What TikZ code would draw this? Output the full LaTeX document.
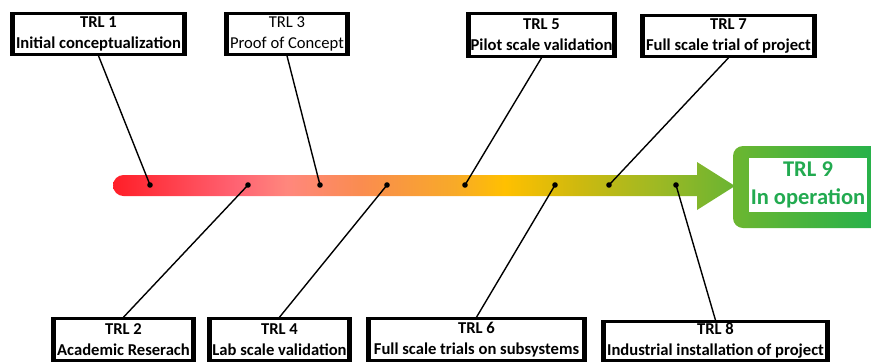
\documentclass[tikz,border=0pt]{standalone}
\usepackage{fontspec}
\setmainfont{Carlito}
\pgfdeclarehorizontalshading{trlbar}{100bp}{rgb(0bp)=(1,0.118,0.157); rgb(25bp)=(1,0.118,0.157); rgb(35bp)=(1,0.392,0.451); rgb(39bp)=(1,0.53,0.49); rgb(45bp)=(0.98,0.55,0.31); rgb(52.5bp)=(0.973,0.667,0.157); rgb(56.5bp)=(1,0.753,0); rgb(62.5bp)=(0.804,0.725,0.059); rgb(68.5bp)=(0.627,0.725,0.137); rgb(75bp)=(0.412,0.706,0.196); rgb(100bp)=(0.412,0.706,0.196)}
\definecolor{gA}{RGB}{108,182,48}
\definecolor{gB}{RGB}{34,177,76}
\definecolor{gText}{RGB}{34,170,80}
\tikzset{
  trlbox/.style={draw=black, line width=2.6bp, fill=white, inner sep=0pt, align=center,
    font=\fontsize{16.6bp}{21bp}\selectfont\bfseries},
  trlside/.style={line width=4.6bp},
  conn/.style={line width=1.4bp, black},
  dot/.style={fill=black},
}
\begin{document}
\begin{tikzpicture}[x=1bp,y=-1bp]
\useasboundingbox (0,0) rectangle (871,363);
% TRL 9 box
\node[rounded corners=10bp, left color=gA, right color=gB, minimum width=150bp, minimum height=82bp, inner sep=0pt] (t9frame) at (808,187) {};
\node[fill=white, minimum width=118bp, minimum height=54bp, inner sep=0pt, align=center, text=gText,
  font=\fontsize{22.5bp}{28bp}\selectfont\bfseries] (t9) at (808,185) {TRL 9\\In operation};
% bar and arrow
\shade[shading=trlbar] (697,175) -- (123.5,175) .. controls (117.7,175) and (113,179.7) .. (113,185.5)
  .. controls (113,191.3) and (117.7,196) .. (123.5,196) -- (697,196) -- (697,210) -- (735,186) -- (697,162) -- cycle;
% boxes
\node[trlbox, minimum width=170bp, minimum height=41bp] (t1) at (98.5,34) {TRL 1\\Initial conceptualization};
\node[trlbox, minimum width=119bp, minimum height=41bp, font=\fontsize{16.6bp}{21bp}\selectfont] (t3) at (287,34) {TRL 3\\Proof of Concept};
\node[trlbox, minimum width=144bp, minimum height=43bp] (t5) at (541.5,35) {TRL 5\\Pilot scale validation};
\node[trlbox, minimum width=170bp, minimum height=41bp] (t7) at (728.5,36) {TRL 7\\Full scale trial of project};
\node[trlbox, minimum width=138bp, minimum height=42bp] (t2) at (123.5,339.5) {TRL 2\\Academic Reserach};
\node[trlbox, minimum width=138bp, minimum height=42bp] (t4) at (279.5,339.5) {TRL 4\\Lab scale validation};
\node[trlbox, minimum width=214bp, minimum height=42bp] (t6) at (476.5,339.5) {TRL 6\\Full scale trials on subsystems};
\node[trlbox, minimum width=222bp, minimum height=39bp] (t8) at (715.5,341) {TRL 8\\Industrial installation of project};
\foreach \n in {t1,t3,t5,t7,t2,t4,t6,t8}{
  \draw[trlside] (\n.north west) -- (\n.south west);
  \draw[trlside] (\n.north east) -- (\n.south east);
}
% points on the bar
\coordinate (d1) at (150,185);
\coordinate (d2) at (248,185);
\coordinate (d3) at (320,185);
\coordinate (d4) at (387,185);
\coordinate (d5) at (465,185);
\coordinate (d6) at (555,185);
\coordinate (d7) at (609,185);
\coordinate (d8) at (676,185);
\draw[conn] (d1) -- (t1.south);
\draw[conn] (d3) -- (t3.south);
\draw[conn] (d5) -- (t5.south);
\draw[conn] (d7) -- (t7.south);
\draw[conn] (d2) -- (t2.north);
\draw[conn] (d4) -- (t4.north);
\draw[conn] (d6) -- (t6.north);
\draw[conn] (d8) -- (t8.north);
\foreach \d in {d1,d2,d3,d4,d5,d6,d7,d8}{
  \fill[dot] (\d) circle (2.8bp);
}
\end{tikzpicture}
\end{document}
